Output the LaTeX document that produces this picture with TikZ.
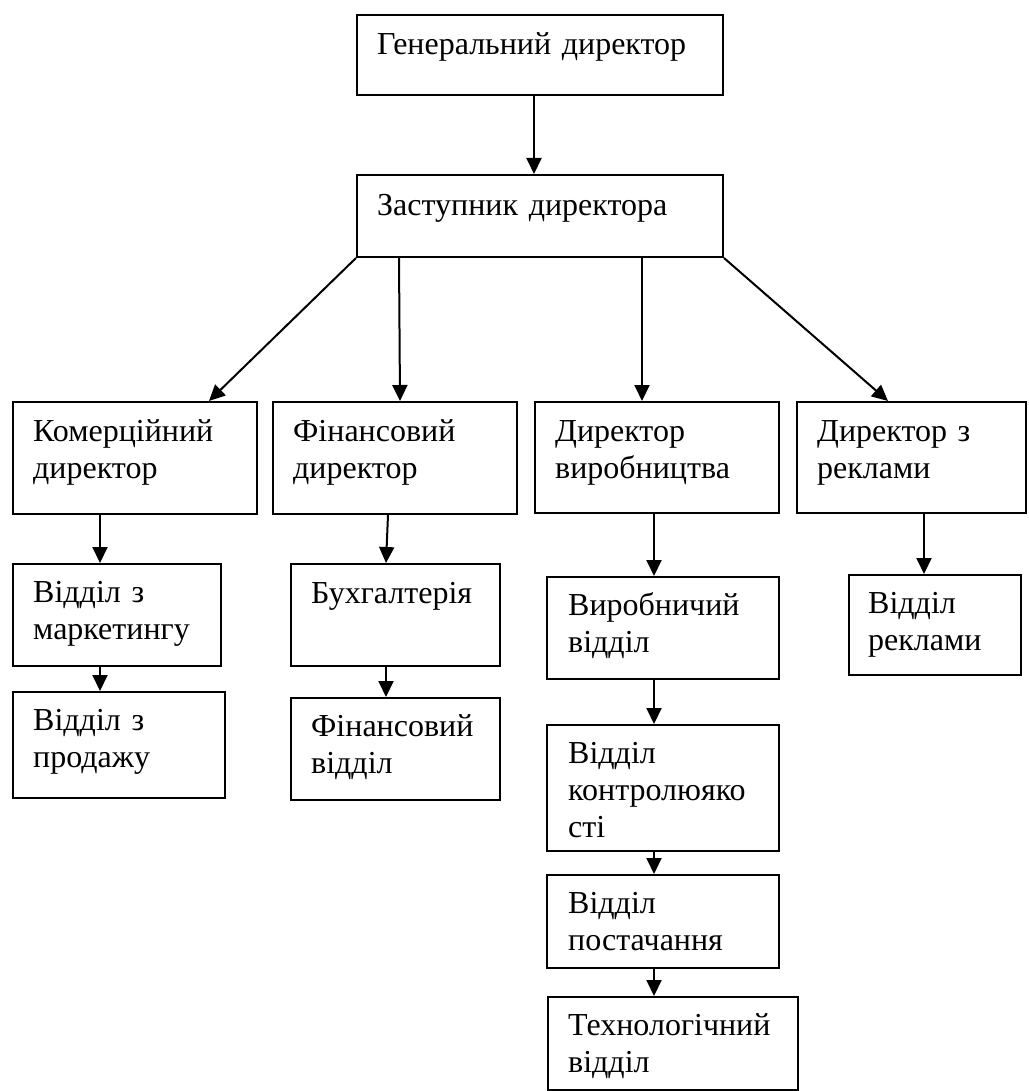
\documentclass[tikz,border=0pt]{standalone}
\usepackage{fontspec}
\setmainfont{Liberation Serif}
\usetikzlibrary{arrows.meta}
\begin{document}
\begin{tikzpicture}[x=1pt,y=-1pt,
  box/.style={draw, line width=2pt, rectangle, anchor=north west, inner sep=0pt},
  lbl/.style={anchor=base west, inner sep=0pt, text width=260pt, align=left, font=\fontsize{32}{37}\selectfont},
  conn/.style={line width=2pt, -{Triangle[length=16pt,width=15pt]}}]
\useasboundingbox (0,0) rectangle (1028,1091);
% boxes
\node[box, minimum width=366pt, minimum height=80pt]  (gen)   at (356,14)  {};
\node[box, minimum width=366pt, minimum height=82pt]  (zas)   at (356,174) {};
\node[box, minimum width=244pt, minimum height=112pt] (kom)   at (12,401)  {};
\node[box, minimum width=244pt, minimum height=112pt] (fin)   at (272,401) {};
\node[box, minimum width=244pt, minimum height=111pt] (vyr)   at (534,401) {};
\node[box, minimum width=229pt, minimum height=111pt] (rek)   at (796,401) {};
\node[box, minimum width=208pt, minimum height=102pt] (mark)  at (12,563)  {};
\node[box, minimum width=212pt, minimum height=106pt] (prod)  at (12,691)  {};
\node[box, minimum width=209pt, minimum height=102pt] (buh)   at (290,563) {};
\node[box, minimum width=209pt, minimum height=102pt] (finv)  at (290,697) {};
\node[box, minimum width=232pt, minimum height=102pt] (vyrv)  at (546,576) {};
\node[box, minimum width=232pt, minimum height=126pt] (kontr) at (546,724) {};
\node[box, minimum width=232pt, minimum height=93pt]  (post)  at (546,874) {};
\node[box, minimum width=250pt, minimum height=93pt]  (tech)  at (547,996) {};
\node[box, minimum width=172pt, minimum height=100pt] (rekv)  at (848,574) {};
% texts
\node[lbl, text width=340pt] (genT) at ([shift={(21pt,-41pt)}]gen.north west) {Генеральний директор};
\node[lbl, text width=340pt] (zasT) at ([shift={(21pt,-41pt)}]zas.north west) {Заступник директора};
\node[lbl] (komT)   at ([shift={(21pt,-40pt)}]kom.north west)   {Комерційний\\директор};
\node[lbl] (finT)   at ([shift={(21pt,-40pt)}]fin.north west)   {Фінансовий\\директор};
\node[lbl] (vyrT)   at ([shift={(21pt,-40pt)}]vyr.north west)   {Директор\\виробництва};
\node[lbl] (rekT)   at ([shift={(21pt,-40pt)}]rek.north west)   {Директор з\\реклами};
\node[lbl] (markT)  at ([shift={(21pt,-39pt)}]mark.north west)  {Відділ з\\маркетингу};
\node[lbl] (prodT)  at ([shift={(21pt,-39pt)}]prod.north west)  {Відділ з\\продажу};
\node[lbl] (buhT)   at ([shift={(21pt,-40pt)}]buh.north west)   {Бухгалтерія};
\node[lbl] (finvT)  at ([shift={(21pt,-39pt)}]finv.north west)  {Фінансовий\\відділ};
\node[lbl] (vyrvT)  at ([shift={(22pt,-39pt)}]vyrv.north west)  {Виробничий\\відділ};
\node[lbl] (kontrT) at ([shift={(22pt,-39pt)}]kontr.north west) {Відділ\\контролюяко\\сті};
\node[lbl] (postT)  at ([shift={(22pt,-39pt)}]post.north west)  {Відділ\\постачання};
\node[lbl] (techT)  at ([shift={(21pt,-39pt)}]tech.north west)  {Технологічний\\відділ};
\node[lbl] (rekvT)  at ([shift={(20pt,-39pt)}]rekv.north west)  {Відділ\\реклами};
% connectors
\draw[conn] ([xshift=178pt]gen.south west) -- ([xshift=178pt]zas.north west);
\draw[conn] (zas.south west) -- ([xshift=197pt]kom.north west);
\draw[conn] ([xshift=43pt]zas.south west) -- ([xshift=128pt]fin.north west);
\draw[conn] ([xshift=286pt]zas.south west) -- ([xshift=108pt]vyr.north west);
\draw[conn] (zas.south east) -- ([xshift=92pt]rek.north west);
\draw[conn] ([xshift=88pt]kom.south west) -- ([xshift=88pt]mark.north west);
\draw[conn] ([xshift=88pt]mark.south west) -- ([xshift=88pt]prod.north west);
\draw[conn] ([xshift=116pt]fin.south west) -- ([xshift=96pt]buh.north west);
\draw[conn] ([xshift=96pt]buh.south west) -- ([xshift=96pt]finv.north west);
\draw[conn] ([xshift=120pt]vyr.south west) -- ([xshift=108pt]vyrv.north west);
\draw[conn] ([xshift=108pt]vyrv.south west) -- ([xshift=108pt]kontr.north west);
\draw[conn] ([xshift=108pt]kontr.south west) -- ([xshift=108pt]post.north west);
\draw[conn] ([xshift=108pt]post.south west) -- ([xshift=107pt]tech.north west);
\draw[conn] ([xshift=128pt]rek.south west) -- ([xshift=76pt]rekv.north west);
\end{tikzpicture}
\end{document}
